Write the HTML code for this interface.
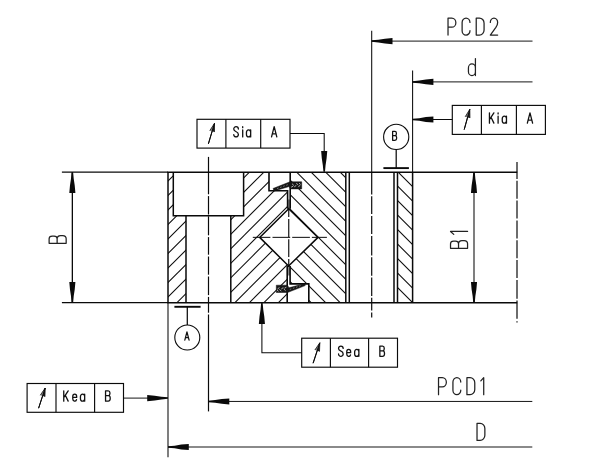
<!DOCTYPE html>
<html><head><meta charset="utf-8"><title>Bearing runout diagram</title>
<style>
html,body{margin:0;padding:0;background:#fff;}
body{width:603px;height:466px;overflow:hidden;font-family:"Liberation Sans",sans-serif;}
svg{display:block;}
</style></head><body>
<svg width="603" height="466" viewBox="0 0 603 466">
<rect width="603" height="466" fill="#ffffff"/>
<defs>
<clipPath id="cF"><polygon points="168,172.2 173.3,172.2 173.3,215.8 186,215.8 186,302.7 168,302.7"/><polygon points="243.6,172.2 269,172.2 269,190.7 287.8,190.7 287.8,208.7 288.7,208.7 259.7,237.4 288.6,266.0 287.3,266.0 287.3,302.7 230.8,302.7 230.8,215.8 243.6,215.8"/></clipPath>
<clipPath id="cB"><polygon points="290.3,172.2 345.8,172.2 345.8,302.7 308.7,302.7 308.7,283.6 290.0,283.6 290.0,266.0 288.6,266.0 318.0,237.4 288.7,208.7 290.3,208.7"/><polygon points="397.5,172.2 412.6,172.2 412.6,302.7 397.5,302.7"/></clipPath>
</defs>
<g clip-path="url(#cF)">
<line x1="157.9" y1="162.2" x2="7.4" y2="312.7" stroke="#0a0a0a" stroke-width="1.05" />
<line x1="172.4" y1="162.2" x2="21.9" y2="312.7" stroke="#0a0a0a" stroke-width="1.05" />
<line x1="186.9" y1="162.2" x2="36.4" y2="312.7" stroke="#0a0a0a" stroke-width="1.05" />
<line x1="201.4" y1="162.2" x2="50.9" y2="312.7" stroke="#0a0a0a" stroke-width="1.05" />
<line x1="215.9" y1="162.2" x2="65.4" y2="312.7" stroke="#0a0a0a" stroke-width="1.05" />
<line x1="230.4" y1="162.2" x2="79.9" y2="312.7" stroke="#0a0a0a" stroke-width="1.05" />
<line x1="244.9" y1="162.2" x2="94.4" y2="312.7" stroke="#0a0a0a" stroke-width="1.05" />
<line x1="259.4" y1="162.2" x2="108.9" y2="312.7" stroke="#0a0a0a" stroke-width="1.05" />
<line x1="273.9" y1="162.2" x2="123.4" y2="312.7" stroke="#0a0a0a" stroke-width="1.05" />
<line x1="288.4" y1="162.2" x2="137.9" y2="312.7" stroke="#0a0a0a" stroke-width="1.05" />
<line x1="302.9" y1="162.2" x2="152.4" y2="312.7" stroke="#0a0a0a" stroke-width="1.05" />
<line x1="317.4" y1="162.2" x2="166.9" y2="312.7" stroke="#0a0a0a" stroke-width="1.05" />
<line x1="331.9" y1="162.2" x2="181.4" y2="312.7" stroke="#0a0a0a" stroke-width="1.05" />
<line x1="346.4" y1="162.2" x2="195.9" y2="312.7" stroke="#0a0a0a" stroke-width="1.05" />
<line x1="360.9" y1="162.2" x2="210.4" y2="312.7" stroke="#0a0a0a" stroke-width="1.05" />
<line x1="375.4" y1="162.2" x2="224.9" y2="312.7" stroke="#0a0a0a" stroke-width="1.05" />
<line x1="389.9" y1="162.2" x2="239.4" y2="312.7" stroke="#0a0a0a" stroke-width="1.05" />
<line x1="404.4" y1="162.2" x2="253.9" y2="312.7" stroke="#0a0a0a" stroke-width="1.05" />
<line x1="418.9" y1="162.2" x2="268.4" y2="312.7" stroke="#0a0a0a" stroke-width="1.05" />
<line x1="433.4" y1="162.2" x2="282.9" y2="312.7" stroke="#0a0a0a" stroke-width="1.05" />
<line x1="447.9" y1="162.2" x2="297.4" y2="312.7" stroke="#0a0a0a" stroke-width="1.05" />
</g>
<g clip-path="url(#cB)">
<line x1="460.7" y1="162.2" x2="611.2" y2="312.7" stroke="#0a0a0a" stroke-width="1.05" />
<line x1="446.2" y1="162.2" x2="596.7" y2="312.7" stroke="#0a0a0a" stroke-width="1.05" />
<line x1="431.7" y1="162.2" x2="582.2" y2="312.7" stroke="#0a0a0a" stroke-width="1.05" />
<line x1="417.2" y1="162.2" x2="567.7" y2="312.7" stroke="#0a0a0a" stroke-width="1.05" />
<line x1="402.7" y1="162.2" x2="553.2" y2="312.7" stroke="#0a0a0a" stroke-width="1.05" />
<line x1="388.2" y1="162.2" x2="538.7" y2="312.7" stroke="#0a0a0a" stroke-width="1.05" />
<line x1="373.7" y1="162.2" x2="524.2" y2="312.7" stroke="#0a0a0a" stroke-width="1.05" />
<line x1="359.2" y1="162.2" x2="509.7" y2="312.7" stroke="#0a0a0a" stroke-width="1.05" />
<line x1="344.7" y1="162.2" x2="495.2" y2="312.7" stroke="#0a0a0a" stroke-width="1.05" />
<line x1="330.2" y1="162.2" x2="480.7" y2="312.7" stroke="#0a0a0a" stroke-width="1.05" />
<line x1="315.7" y1="162.2" x2="466.2" y2="312.7" stroke="#0a0a0a" stroke-width="1.05" />
<line x1="301.2" y1="162.2" x2="451.7" y2="312.7" stroke="#0a0a0a" stroke-width="1.05" />
<line x1="286.7" y1="162.2" x2="437.2" y2="312.7" stroke="#0a0a0a" stroke-width="1.05" />
<line x1="272.2" y1="162.2" x2="422.7" y2="312.7" stroke="#0a0a0a" stroke-width="1.05" />
<line x1="257.7" y1="162.2" x2="408.2" y2="312.7" stroke="#0a0a0a" stroke-width="1.05" />
<line x1="243.2" y1="162.2" x2="393.7" y2="312.7" stroke="#0a0a0a" stroke-width="1.05" />
<line x1="228.7" y1="162.2" x2="379.2" y2="312.7" stroke="#0a0a0a" stroke-width="1.05" />
<line x1="214.2" y1="162.2" x2="364.7" y2="312.7" stroke="#0a0a0a" stroke-width="1.05" />
<line x1="199.7" y1="162.2" x2="350.2" y2="312.7" stroke="#0a0a0a" stroke-width="1.05" />
<line x1="185.2" y1="162.2" x2="335.7" y2="312.7" stroke="#0a0a0a" stroke-width="1.05" />
<line x1="170.7" y1="162.2" x2="321.2" y2="312.7" stroke="#0a0a0a" stroke-width="1.05" />
<line x1="156.2" y1="162.2" x2="306.7" y2="312.7" stroke="#0a0a0a" stroke-width="1.05" />
<line x1="141.7" y1="162.2" x2="292.2" y2="312.7" stroke="#0a0a0a" stroke-width="1.05" />
<line x1="127.2" y1="162.2" x2="277.7" y2="312.7" stroke="#0a0a0a" stroke-width="1.05" />
<line x1="112.7" y1="162.2" x2="263.2" y2="312.7" stroke="#0a0a0a" stroke-width="1.05" />
</g>
<line x1="61.9" y1="172.2" x2="168" y2="172.2" stroke="#0a0a0a" stroke-width="1.2" />
<line x1="167.3" y1="172.2" x2="517.2" y2="172.2" stroke="#0a0a0a" stroke-width="1.5" />
<line x1="61.9" y1="302.7" x2="168" y2="302.7" stroke="#0a0a0a" stroke-width="1.2" />
<line x1="167.3" y1="302.7" x2="517.2" y2="302.7" stroke="#0a0a0a" stroke-width="1.5" />
<line x1="168" y1="172.2" x2="168" y2="302.7" stroke="#0a0a0a" stroke-width="1.5" />
<line x1="168" y1="302.7" x2="168" y2="457.2" stroke="#0a0a0a" stroke-width="1.05" />
<path d="M173.3,172.2 L173.3,215.8 L243.6,215.8 L243.6,172.2" fill="none" stroke="#0a0a0a" stroke-width="1.5" stroke-linejoin="miter"/>
<line x1="186" y1="215.8" x2="186" y2="302.7" stroke="#0a0a0a" stroke-width="1.5" />
<line x1="230.8" y1="215.8" x2="230.8" y2="302.7" stroke="#0a0a0a" stroke-width="1.5" />
<rect x="287.6" y="199.5" width="2.6" height="9.20" fill="#8a8a8a"/>
<path d="M269,172.2 L269,190.7 L287.6,190.7 L287.6,208.7" fill="none" stroke="#0a0a0a" stroke-width="1.6" stroke-linejoin="miter"/>
<line x1="290.2" y1="172.2" x2="290.2" y2="208.7" stroke="#0a0a0a" stroke-width="1.6" />
<rect x="287.2" y="266.00" width="2.8" height="9.50" fill="#8a8a8a"/>
<path d="M308.8,302.7 L308.8,283.9 L290.1,283.9 L290.1,266.0" fill="none" stroke="#0a0a0a" stroke-width="1.6" stroke-linejoin="miter"/>
<line x1="287.2" y1="302.7" x2="287.2" y2="266.0" stroke="#0a0a0a" stroke-width="1.6" />
<path d="M288.7,208.7 L318.0,237.4 L288.6,266.0 L259.7,237.4 Z" fill="none" stroke="#0a0a0a" stroke-width="1.5" stroke-linejoin="miter"/>
<line x1="345.8" y1="172.2" x2="345.8" y2="302.7" stroke="#0a0a0a" stroke-width="1.5" />
<line x1="349.3" y1="172.2" x2="349.3" y2="302.7" stroke="#0a0a0a" stroke-width="1.5" />
<line x1="394.0" y1="172.2" x2="394.0" y2="302.7" stroke="#0a0a0a" stroke-width="1.5" />
<line x1="397.5" y1="172.2" x2="397.5" y2="302.7" stroke="#0a0a0a" stroke-width="1.5" />
<line x1="412.6" y1="172.2" x2="412.6" y2="302.7" stroke="#0a0a0a" stroke-width="1.5" />
<polygon points="273.0,188.5 290.0,181.8 301.7,181.8 301.7,188.9 290.4,188.9 289.2,186.5 274.2,191.0" fill="#161616" stroke="#111" stroke-width="0.5"/>
<polygon points="276.3,285.2 287.4,285.2 289.0,287.8 304.8,283.5 305.2,285.6 287.6,292.5 276.3,292.5" fill="#161616" stroke="#111" stroke-width="0.5"/>
<line x1="292.3" y1="184.0" x2="293.6" y2="185.2" stroke="#d8d8d8" stroke-width="0.8" stroke-linecap="round"/>
<line x1="285.3" y1="290.4" x2="284.0" y2="289.2" stroke="#d8d8d8" stroke-width="0.8" stroke-linecap="round"/>
<line x1="294.6" y1="186.6" x2="296.0" y2="185.6" stroke="#d8d8d8" stroke-width="0.8" stroke-linecap="round"/>
<line x1="283.0" y1="287.8" x2="281.6" y2="288.8" stroke="#d8d8d8" stroke-width="0.8" stroke-linecap="round"/>
<line x1="296.6" y1="183.6" x2="297.9" y2="184.6" stroke="#d8d8d8" stroke-width="0.8" stroke-linecap="round"/>
<line x1="281.0" y1="290.8" x2="279.7" y2="289.8" stroke="#d8d8d8" stroke-width="0.8" stroke-linecap="round"/>
<line x1="298.6" y1="186.8" x2="299.8" y2="185.4" stroke="#d8d8d8" stroke-width="0.8" stroke-linecap="round"/>
<line x1="279.0" y1="287.6" x2="277.8" y2="289.0" stroke="#d8d8d8" stroke-width="0.8" stroke-linecap="round"/>
<line x1="291.6" y1="187.0" x2="292.8" y2="186.4" stroke="#d8d8d8" stroke-width="0.8" stroke-linecap="round"/>
<line x1="286.0" y1="287.4" x2="284.8" y2="288.0" stroke="#d8d8d8" stroke-width="0.8" stroke-linecap="round"/>
<line x1="299.4" y1="183.4" x2="300.3" y2="184.2" stroke="#d8d8d8" stroke-width="0.8" stroke-linecap="round"/>
<line x1="278.2" y1="291.0" x2="277.3" y2="290.2" stroke="#d8d8d8" stroke-width="0.8" stroke-linecap="round"/>
<line x1="277.0" y1="188.6" x2="278.5" y2="188.0" stroke="#bdbdbd" stroke-width="0.6"/>
<line x1="300.6" y1="285.6" x2="299.1" y2="286.2" stroke="#bdbdbd" stroke-width="0.6"/>
<line x1="280.1" y1="187.5" x2="281.6" y2="186.9" stroke="#bdbdbd" stroke-width="0.6"/>
<line x1="297.5" y1="286.7" x2="296.0" y2="287.3" stroke="#bdbdbd" stroke-width="0.6"/>
<line x1="283.2" y1="186.4" x2="284.7" y2="185.8" stroke="#bdbdbd" stroke-width="0.6"/>
<line x1="294.4" y1="287.8" x2="292.9" y2="288.4" stroke="#bdbdbd" stroke-width="0.6"/>
<line x1="286.3" y1="185.3" x2="287.8" y2="184.7" stroke="#bdbdbd" stroke-width="0.6"/>
<line x1="291.3" y1="288.9" x2="289.8" y2="289.5" stroke="#bdbdbd" stroke-width="0.6"/>
<line x1="208.5" y1="156.9" x2="208.5" y2="194.3" stroke="#0a0a0a" stroke-width="1.2" />
<line x1="208.5" y1="196.1" x2="208.5" y2="214.5" stroke="#0a0a0a" stroke-width="1.2" />
<line x1="208.5" y1="216.3" x2="208.5" y2="235.3" stroke="#0a0a0a" stroke-width="1.2" />
<line x1="208.5" y1="237.1" x2="208.5" y2="254.7" stroke="#0a0a0a" stroke-width="1.2" />
<line x1="208.5" y1="256.5" x2="208.5" y2="274.7" stroke="#0a0a0a" stroke-width="1.2" />
<line x1="208.5" y1="276.5" x2="208.5" y2="295.1" stroke="#0a0a0a" stroke-width="1.2" />
<line x1="208.5" y1="296.9" x2="208.5" y2="312.7" stroke="#0a0a0a" stroke-width="1.2" />
<line x1="208.5" y1="314.5" x2="208.5" y2="411.4" stroke="#0a0a0a" stroke-width="1.2" />
<line x1="371.7" y1="30.8" x2="371.7" y2="172.2" stroke="#0a0a0a" stroke-width="1.05" />
<line x1="371.7" y1="172.2" x2="371.7" y2="194.5" stroke="#0a0a0a" stroke-width="1.2" />
<line x1="371.7" y1="196.3" x2="371.7" y2="214.1" stroke="#0a0a0a" stroke-width="1.2" />
<line x1="371.7" y1="215.9" x2="371.7" y2="234.1" stroke="#0a0a0a" stroke-width="1.2" />
<line x1="371.7" y1="235.9" x2="371.7" y2="255.5" stroke="#0a0a0a" stroke-width="1.2" />
<line x1="371.7" y1="257.3" x2="371.7" y2="275.7" stroke="#0a0a0a" stroke-width="1.2" />
<line x1="371.7" y1="277.5" x2="371.7" y2="295.9" stroke="#0a0a0a" stroke-width="1.2" />
<line x1="371.7" y1="297.7" x2="371.7" y2="310.6" stroke="#0a0a0a" stroke-width="1.2" />
<line x1="371.7" y1="312.4" x2="371.7" y2="317.6" stroke="#0a0a0a" stroke-width="1.2" />
<line x1="517.0" y1="161.9" x2="517.0" y2="178.9" stroke="#0a0a0a" stroke-width="1.2" />
<line x1="517.0" y1="180.7" x2="517.0" y2="198.7" stroke="#0a0a0a" stroke-width="1.2" />
<line x1="517.0" y1="200.5" x2="517.0" y2="218.6" stroke="#0a0a0a" stroke-width="1.2" />
<line x1="517.0" y1="220.4" x2="517.0" y2="238.4" stroke="#0a0a0a" stroke-width="1.2" />
<line x1="517.0" y1="240.2" x2="517.0" y2="258.3" stroke="#0a0a0a" stroke-width="1.2" />
<line x1="517.0" y1="260.1" x2="517.0" y2="278.1" stroke="#0a0a0a" stroke-width="1.2" />
<line x1="517.0" y1="279.9" x2="517.0" y2="298.7" stroke="#0a0a0a" stroke-width="1.2" />
<line x1="517.0" y1="300.5" x2="517.0" y2="318.7" stroke="#0a0a0a" stroke-width="1.2" />
<line x1="517.0" y1="321.2" x2="517.0" y2="322.6" stroke="#0a0a0a" stroke-width="1.2" />
<line x1="252.8" y1="237.35" x2="270.4" y2="237.35" stroke="#0a0a0a" stroke-width="1.0" />
<line x1="272.5" y1="237.35" x2="290.2" y2="237.35" stroke="#0a0a0a" stroke-width="1.0" />
<line x1="292.2" y1="237.35" x2="309.9" y2="237.35" stroke="#0a0a0a" stroke-width="1.0" />
<line x1="311.9" y1="237.35" x2="326.9" y2="237.35" stroke="#0a0a0a" stroke-width="1.0" />
<line x1="288.75" y1="207.7" x2="288.75" y2="217.0" stroke="#0a0a0a" stroke-width="1.15" />
<line x1="288.75" y1="219.0" x2="288.75" y2="237.3" stroke="#0a0a0a" stroke-width="1.15" />
<line x1="288.75" y1="239.3" x2="288.75" y2="257.0" stroke="#0a0a0a" stroke-width="1.15" />
<line x1="288.75" y1="259.0" x2="288.75" y2="267.0" stroke="#0a0a0a" stroke-width="1.15" />
<line x1="72.35" y1="172.2" x2="72.35" y2="302.7" stroke="#0a0a0a" stroke-width="1.3" />
<polygon points="71.59,172.20 70.98,178.86 69.97,185.51 69.30,193.00 75.40,193.00 74.73,185.51 73.72,178.86 73.11,172.20" fill="#0a0a0a"/>
<polygon points="73.11,302.70 73.72,296.04 74.73,289.39 75.40,281.90 69.30,281.90 69.97,289.39 70.98,296.04 71.59,302.70" fill="#0a0a0a"/>
<line x1="474.0" y1="172.2" x2="474.0" y2="302.7" stroke="#0a0a0a" stroke-width="1.05" />
<polygon points="473.24,172.20 472.63,178.86 471.62,185.51 470.95,193.00 477.05,193.00 476.38,185.51 475.37,178.86 474.76,172.20" fill="#0a0a0a"/>
<polygon points="474.76,302.70 475.37,296.04 476.38,289.39 477.05,281.90 470.95,281.90 471.62,289.39 472.63,296.04 473.24,302.70" fill="#0a0a0a"/>
<line x1="371.7" y1="41.1" x2="532.5" y2="41.1" stroke="#0a0a0a" stroke-width="0.95" />
<polygon points="371.70,41.86 378.36,42.47 385.01,43.48 392.50,44.15 392.50,38.05 385.01,38.72 378.36,39.73 371.70,40.34" fill="#0a0a0a"/>
<line x1="412.6" y1="70.6" x2="412.6" y2="172.2" stroke="#0a0a0a" stroke-width="1.05" />
<line x1="412.6" y1="81.9" x2="532.5" y2="81.9" stroke="#0a0a0a" stroke-width="0.95" />
<polygon points="412.60,82.66 419.26,83.27 425.91,84.28 433.40,84.95 433.40,78.85 425.91,79.52 419.26,80.53 412.60,81.14" fill="#0a0a0a"/>
<line x1="208.5" y1="401.45" x2="532.3" y2="401.45" stroke="#0a0a0a" stroke-width="0.95" />
<polygon points="208.50,402.21 215.16,402.82 221.81,403.83 229.30,404.50 229.30,398.40 221.81,399.07 215.16,400.08 208.50,400.69" fill="#0a0a0a"/>
<line x1="168" y1="447.0" x2="532.3" y2="447.0" stroke="#0a0a0a" stroke-width="0.95" />
<polygon points="168.00,447.76 174.66,448.37 181.31,449.38 188.80,450.05 188.80,443.95 181.31,444.62 174.66,445.63 168.00,446.24" fill="#0a0a0a"/>
<rect x="452.3" y="105.4" width="93.10" height="29.00" fill="none" stroke="#0a0a0a" stroke-width="1.15"/>
<line x1="481.4" y1="105.4" x2="481.4" y2="134.4" stroke="#0a0a0a" stroke-width="1.15" />
<line x1="516.4" y1="105.4" x2="516.4" y2="134.4" stroke="#0a0a0a" stroke-width="1.15" />
<line x1="464.2" y1="129.6" x2="469.8" y2="109.3" stroke="#0a0a0a" stroke-width="1.0" />
<polygon points="469.80,109.30 465.20,116.75 467.57,117.40" fill="#7d7d7d"/>
<polygon points="469.80,109.30 467.57,117.40 469.93,118.05" fill="#1a1a1a"/>
<path d="M465.20,116.75 L469.80,109.30 L469.93,118.05" fill="none" stroke="#111" stroke-width="0.8" stroke-linejoin="miter"/>
<line x1="464.2" y1="129.6" x2="469.8" y2="109.3" stroke="#0a0a0a" stroke-width="1.0" />
<line x1="412.6" y1="119.5" x2="452.3" y2="119.5" stroke="#0a0a0a" stroke-width="1.05" />
<polygon points="412.60,120.26 419.26,120.87 425.91,121.88 433.40,122.55 433.40,116.45 425.91,117.12 419.26,118.13 412.60,118.74" fill="#0a0a0a"/>
<path transform="translate(489.45,123.15) scale(10.545,10.300)" d="M0,0 L0,-1 M0.42,-1 L0,-0.34 M0.15,-0.57 L0.42,0" fill="none" stroke="#111" stroke-width="1.3" vector-effect="non-scaling-stroke" stroke-linecap="round" stroke-linejoin="round"/>
<path transform="translate(498.10,123.15) scale(10.300,10.300)" d="M0,0 L0,-0.68 M0,-0.9 L0,-1" fill="none" stroke="#111" stroke-width="1.3" vector-effect="non-scaling-stroke" stroke-linecap="round" stroke-linejoin="round"/>
<path transform="translate(502.25,123.15) scale(8.798,10.300)" d="M0.48,-0.68 L0.48,0 M0.48,-0.44 A0.24,0.24 0 0 0 0,-0.44 L0,-0.24 A0.24,0.24 0 0 0 0.48,-0.24" fill="none" stroke="#111" stroke-width="1.3" vector-effect="non-scaling-stroke" stroke-linecap="round" stroke-linejoin="round"/>
<path transform="translate(527.35,123.15) scale(9.380,10.300)" d="M0,0 L0.28,-1 L0.56,0 M0.09,-0.3 L0.47,-0.3" fill="none" stroke="#111" stroke-width="1.3" vector-effect="non-scaling-stroke" stroke-linecap="round" stroke-linejoin="round"/>
<rect x="197.0" y="119.3" width="93.00" height="28.80" fill="none" stroke="#0a0a0a" stroke-width="1.15"/>
<line x1="225.9" y1="119.3" x2="225.9" y2="148.1" stroke="#0a0a0a" stroke-width="1.15" />
<line x1="260.7" y1="119.3" x2="260.7" y2="148.1" stroke="#0a0a0a" stroke-width="1.15" />
<line x1="208.4" y1="143.8" x2="214.5" y2="123.3" stroke="#0a0a0a" stroke-width="1.0" />
<polygon points="214.50,123.30 209.76,130.65 212.10,131.35" fill="#7d7d7d"/>
<polygon points="214.50,123.30 212.10,131.35 214.45,132.05" fill="#1a1a1a"/>
<path d="M209.76,130.65 L214.50,123.30 L214.45,132.05" fill="none" stroke="#111" stroke-width="0.8" stroke-linejoin="miter"/>
<line x1="208.4" y1="143.8" x2="214.5" y2="123.3" stroke="#0a0a0a" stroke-width="1.0" />
<path d="M290.0,133.4 L324.2,133.4 L324.2,162.2" fill="none" stroke="#0a0a0a" stroke-width="1.05" stroke-linejoin="miter"/>
<polygon points="324.96,171.80 325.57,165.14 326.58,158.49 327.25,151.00 321.15,151.00 321.82,158.49 322.83,165.14 323.44,171.80" fill="#0a0a0a"/>
<path transform="translate(233.75,136.95) scale(9.270,10.300)" d="M0.5,-0.77 A0.25,0.23 0 0 0 0,-0.77 Q0,-0.61 0.22,-0.53 Q0.5,-0.43 0.5,-0.23 A0.25,0.23 0 0 1 0,-0.23" fill="none" stroke="#111" stroke-width="1.3" vector-effect="non-scaling-stroke" stroke-linecap="round" stroke-linejoin="round"/>
<path transform="translate(242.70,136.95) scale(10.300,10.300)" d="M0,0 L0,-0.68 M0,-0.9 L0,-1" fill="none" stroke="#111" stroke-width="1.3" vector-effect="non-scaling-stroke" stroke-linecap="round" stroke-linejoin="round"/>
<path transform="translate(246.45,136.95) scale(8.798,10.300)" d="M0.48,-0.68 L0.48,0 M0.48,-0.44 A0.24,0.24 0 0 0 0,-0.44 L0,-0.24 A0.24,0.24 0 0 0 0.48,-0.24" fill="none" stroke="#111" stroke-width="1.3" vector-effect="non-scaling-stroke" stroke-linecap="round" stroke-linejoin="round"/>
<path transform="translate(271.55,136.95) scale(9.380,10.300)" d="M0,0 L0.28,-1 L0.56,0 M0.09,-0.3 L0.47,-0.3" fill="none" stroke="#111" stroke-width="1.3" vector-effect="non-scaling-stroke" stroke-linecap="round" stroke-linejoin="round"/>
<rect x="301.7" y="338.2" width="95.80" height="29.00" fill="none" stroke="#0a0a0a" stroke-width="1.15"/>
<line x1="330.4" y1="338.2" x2="330.4" y2="367.2" stroke="#0a0a0a" stroke-width="1.15" />
<line x1="368.6" y1="338.2" x2="368.6" y2="367.2" stroke="#0a0a0a" stroke-width="1.15" />
<line x1="313.1" y1="363.2" x2="319.8" y2="342.8" stroke="#0a0a0a" stroke-width="1.0" />
<polygon points="319.80,342.80 314.85,350.02 317.18,350.78" fill="#7d7d7d"/>
<polygon points="319.80,342.80 317.18,350.78 319.51,351.55" fill="#1a1a1a"/>
<path d="M314.85,350.02 L319.80,342.80 L319.51,351.55" fill="none" stroke="#111" stroke-width="0.8" stroke-linejoin="miter"/>
<line x1="313.1" y1="363.2" x2="319.8" y2="342.8" stroke="#0a0a0a" stroke-width="1.0" />
<path d="M301.7,352.8 L261.9,352.8 L261.9,312.7" fill="none" stroke="#0a0a0a" stroke-width="1.05" stroke-linejoin="miter"/>
<polygon points="261.14,303.10 260.53,309.76 259.52,316.41 258.85,323.90 264.95,323.90 264.28,316.41 263.27,309.76 262.66,303.10" fill="#0a0a0a"/>
<path transform="translate(338.55,356.35) scale(9.270,10.300)" d="M0.5,-0.77 A0.25,0.23 0 0 0 0,-0.77 Q0,-0.61 0.22,-0.53 Q0.5,-0.43 0.5,-0.23 A0.25,0.23 0 0 1 0,-0.23" fill="none" stroke="#111" stroke-width="1.3" vector-effect="non-scaling-stroke" stroke-linecap="round" stroke-linejoin="round"/>
<path transform="translate(346.75,356.35) scale(8.509,10.300)" d="M0,-0.36 L0.46,-0.36 L0.46,-0.45 A0.23,0.23 0 0 0 0,-0.45 L0,-0.23 A0.23,0.23 0 0 0 0.44,-0.14" fill="none" stroke="#111" stroke-width="1.3" vector-effect="non-scaling-stroke" stroke-linecap="round" stroke-linejoin="round"/>
<path transform="translate(354.65,356.35) scale(8.798,10.300)" d="M0.48,-0.68 L0.48,0 M0.48,-0.44 A0.24,0.24 0 0 0 0,-0.44 L0,-0.24 A0.24,0.24 0 0 0 0.48,-0.24" fill="none" stroke="#111" stroke-width="1.3" vector-effect="non-scaling-stroke" stroke-linecap="round" stroke-linejoin="round"/>
<path transform="translate(379.85,356.35) scale(9.270,10.300)" d="M0,0 L0,-1 L0.29,-1 A0.18,0.18 0 0 1 0.47,-0.82 L0.47,-0.71 A0.18,0.18 0 0 1 0.29,-0.53 L0,-0.53 M0.29,-0.53 A0.21,0.2 0 0 1 0.5,-0.33 L0.5,-0.2 A0.21,0.2 0 0 1 0.29,0 L0,0" fill="none" stroke="#111" stroke-width="1.3" vector-effect="non-scaling-stroke" stroke-linecap="round" stroke-linejoin="round"/>
<rect x="27.1" y="383.5" width="96.40" height="28.80" fill="none" stroke="#0a0a0a" stroke-width="1.15"/>
<line x1="56.0" y1="383.5" x2="56.0" y2="412.3" stroke="#0a0a0a" stroke-width="1.15" />
<line x1="94.6" y1="383.5" x2="94.6" y2="412.3" stroke="#0a0a0a" stroke-width="1.15" />
<line x1="38.6" y1="408.2" x2="45.2" y2="388.0" stroke="#0a0a0a" stroke-width="1.0" />
<polygon points="45.20,388.00 40.26,395.22 42.59,395.98" fill="#7d7d7d"/>
<polygon points="45.20,388.00 42.59,395.98 44.92,396.75" fill="#1a1a1a"/>
<path d="M40.26,395.22 L45.20,388.00 L44.92,396.75" fill="none" stroke="#111" stroke-width="0.8" stroke-linejoin="miter"/>
<line x1="38.6" y1="408.2" x2="45.2" y2="388.0" stroke="#0a0a0a" stroke-width="1.0" />
<line x1="123.5" y1="398.1" x2="150" y2="398.1" stroke="#0a0a0a" stroke-width="0.95" />
<polygon points="168.00,397.34 161.34,396.73 154.69,395.72 147.20,395.05 147.20,401.15 154.69,400.48 161.34,399.47 168.00,398.86" fill="#0a0a0a"/>
<path transform="translate(63.75,401.15) scale(10.545,10.300)" d="M0,0 L0,-1 M0.42,-1 L0,-0.34 M0.15,-0.57 L0.42,0" fill="none" stroke="#111" stroke-width="1.3" vector-effect="non-scaling-stroke" stroke-linecap="round" stroke-linejoin="round"/>
<path transform="translate(72.75,401.15) scale(8.509,10.300)" d="M0,-0.36 L0.46,-0.36 L0.46,-0.45 A0.23,0.23 0 0 0 0,-0.45 L0,-0.23 A0.23,0.23 0 0 0 0.44,-0.14" fill="none" stroke="#111" stroke-width="1.3" vector-effect="non-scaling-stroke" stroke-linecap="round" stroke-linejoin="round"/>
<path transform="translate(80.45,401.15) scale(8.798,10.300)" d="M0.48,-0.68 L0.48,0 M0.48,-0.44 A0.24,0.24 0 0 0 0,-0.44 L0,-0.24 A0.24,0.24 0 0 0 0.48,-0.24" fill="none" stroke="#111" stroke-width="1.3" vector-effect="non-scaling-stroke" stroke-linecap="round" stroke-linejoin="round"/>
<path transform="translate(105.55,401.15) scale(9.270,10.300)" d="M0,0 L0,-1 L0.29,-1 A0.18,0.18 0 0 1 0.47,-0.82 L0.47,-0.71 A0.18,0.18 0 0 1 0.29,-0.53 L0,-0.53 M0.29,-0.53 A0.21,0.2 0 0 1 0.5,-0.33 L0.5,-0.2 A0.21,0.2 0 0 1 0.29,0 L0,0" fill="none" stroke="#111" stroke-width="1.3" vector-effect="non-scaling-stroke" stroke-linecap="round" stroke-linejoin="round"/>
<line x1="174.4" y1="306.8" x2="200.6" y2="306.8" stroke="#0a0a0a" stroke-width="1.9" />
<line x1="187.3" y1="306.8" x2="187.3" y2="325.0" stroke="#0a0a0a" stroke-width="1.25" />
<circle cx="187.3" cy="337.5" r="12.5" fill="none" stroke="#0a0a0a" stroke-width="1.1"/>
<path transform="translate(184.82,340.18) scale(7.604,8.350)" d="M0,0 L0.28,-1 L0.56,0 M0.09,-0.3 L0.47,-0.3" fill="none" stroke="#111" stroke-width="1.25" vector-effect="non-scaling-stroke" stroke-linecap="round" stroke-linejoin="round"/>
<line x1="383.4" y1="168.1" x2="408.9" y2="168.1" stroke="#0a0a0a" stroke-width="1.9" />
<line x1="396.2" y1="149.5" x2="396.2" y2="168.1" stroke="#0a0a0a" stroke-width="1.25" />
<circle cx="396.2" cy="136.9" r="12.6" fill="none" stroke="#0a0a0a" stroke-width="1.1"/>
<path transform="translate(392.62,140.28) scale(7.965,8.850)" d="M0,0 L0,-1 L0.29,-1 A0.18,0.18 0 0 1 0.47,-0.82 L0.47,-0.71 A0.18,0.18 0 0 1 0.29,-0.53 L0,-0.53 M0.29,-0.53 A0.21,0.2 0 0 1 0.5,-0.33 L0.5,-0.2 A0.21,0.2 0 0 1 0.29,0 L0,0" fill="none" stroke="#111" stroke-width="1.25" vector-effect="non-scaling-stroke" stroke-linecap="round" stroke-linejoin="round"/>
<path transform="translate(448.02,35.08) scale(15.686,17.050)" d="M0,0 L0,-1 L0.24,-1 A0.26,0.27 0 0 1 0.24,-0.46 L0,-0.46" fill="none" stroke="#222" stroke-width="1.25" vector-effect="non-scaling-stroke" stroke-linecap="round" stroke-linejoin="round"/>
<path transform="translate(462.12,35.08) scale(15.686,17.050)" d="M0.5,-0.74 A0.25,0.26 0 0 0 0,-0.74 L0,-0.26 A0.25,0.26 0 0 0 0.5,-0.26" fill="none" stroke="#222" stroke-width="1.25" vector-effect="non-scaling-stroke" stroke-linecap="round" stroke-linejoin="round"/>
<path transform="translate(476.23,35.08) scale(15.686,17.050)" d="M0,0 L0,-1 L0.2,-1 A0.3,0.3 0 0 1 0.5,-0.7 L0.5,-0.3 A0.3,0.3 0 0 1 0.2,0 Z" fill="none" stroke="#222" stroke-width="1.25" vector-effect="non-scaling-stroke" stroke-linecap="round" stroke-linejoin="round"/>
<path transform="translate(490.32,35.08) scale(14.663,17.050)" d="M0,-0.74 A0.25,0.26 0 0 1 0.5,-0.74 Q0.5,-0.6 0.38,-0.45 L0,0 L0.5,0" fill="none" stroke="#222" stroke-width="1.25" vector-effect="non-scaling-stroke" stroke-linecap="round" stroke-linejoin="round"/>
<path transform="translate(468.43,75.58) scale(15.534,17.050)" d="M0.45,-1 L0.45,0 M0.45,-0.45 A0.225,0.23 0 0 0 0,-0.45 L0,-0.23 A0.225,0.23 0 0 0 0.45,-0.23" fill="none" stroke="#222" stroke-width="1.25" vector-effect="non-scaling-stroke" stroke-linecap="round" stroke-linejoin="round"/>
<path transform="translate(438.52,394.68) scale(15.686,17.050)" d="M0,0 L0,-1 L0.24,-1 A0.26,0.27 0 0 1 0.24,-0.46 L0,-0.46" fill="none" stroke="#222" stroke-width="1.25" vector-effect="non-scaling-stroke" stroke-linecap="round" stroke-linejoin="round"/>
<path transform="translate(452.93,394.68) scale(15.686,17.050)" d="M0.5,-0.74 A0.25,0.26 0 0 0 0,-0.74 L0,-0.26 A0.25,0.26 0 0 0 0.5,-0.26" fill="none" stroke="#222" stroke-width="1.25" vector-effect="non-scaling-stroke" stroke-linecap="round" stroke-linejoin="round"/>
<path transform="translate(466.93,394.68) scale(15.686,17.050)" d="M0,0 L0,-1 L0.2,-1 A0.3,0.3 0 0 1 0.5,-0.7 L0.5,-0.3 A0.3,0.3 0 0 1 0.2,0 Z" fill="none" stroke="#222" stroke-width="1.25" vector-effect="non-scaling-stroke" stroke-linecap="round" stroke-linejoin="round"/>
<path transform="translate(480.82,394.68) scale(13.175,17.050)" d="M0,-0.81 L0.22,-1 L0.22,0" fill="none" stroke="#222" stroke-width="1.25" vector-effect="non-scaling-stroke" stroke-linecap="round" stroke-linejoin="round"/>
<path transform="translate(477.02,440.38) scale(15.686,17.050)" d="M0,0 L0,-1 L0.2,-1 A0.3,0.3 0 0 1 0.5,-0.7 L0.5,-0.3 A0.3,0.3 0 0 1 0.2,0 Z" fill="none" stroke="#222" stroke-width="1.25" vector-effect="non-scaling-stroke" stroke-linecap="round" stroke-linejoin="round"/>
<path transform="translate(66.17,243.28) rotate(-90) scale(15.345,17.050)" d="M0,0 L0,-1 L0.29,-1 A0.18,0.18 0 0 1 0.47,-0.82 L0.47,-0.71 A0.18,0.18 0 0 1 0.29,-0.53 L0,-0.53 M0.29,-0.53 A0.21,0.2 0 0 1 0.5,-0.33 L0.5,-0.2 A0.21,0.2 0 0 1 0.29,0 L0,0" fill="none" stroke="#222" stroke-width="1.25" vector-effect="non-scaling-stroke" stroke-linecap="round" stroke-linejoin="round"/>
<path transform="translate(467.57,248.28) rotate(-90) scale(15.345,17.050)" d="M0,0 L0,-1 L0.29,-1 A0.18,0.18 0 0 1 0.47,-0.82 L0.47,-0.71 A0.18,0.18 0 0 1 0.29,-0.53 L0,-0.53 M0.29,-0.53 A0.21,0.2 0 0 1 0.5,-0.33 L0.5,-0.2 A0.21,0.2 0 0 1 0.29,0 L0,0" fill="none" stroke="#222" stroke-width="1.25" vector-effect="non-scaling-stroke" stroke-linecap="round" stroke-linejoin="round"/>
<path transform="translate(467.57,234.38) rotate(-90) scale(13.175,17.050)" d="M0,-0.81 L0.22,-1 L0.22,0" fill="none" stroke="#222" stroke-width="1.25" vector-effect="non-scaling-stroke" stroke-linecap="round" stroke-linejoin="round"/>
</svg>
</body></html>
